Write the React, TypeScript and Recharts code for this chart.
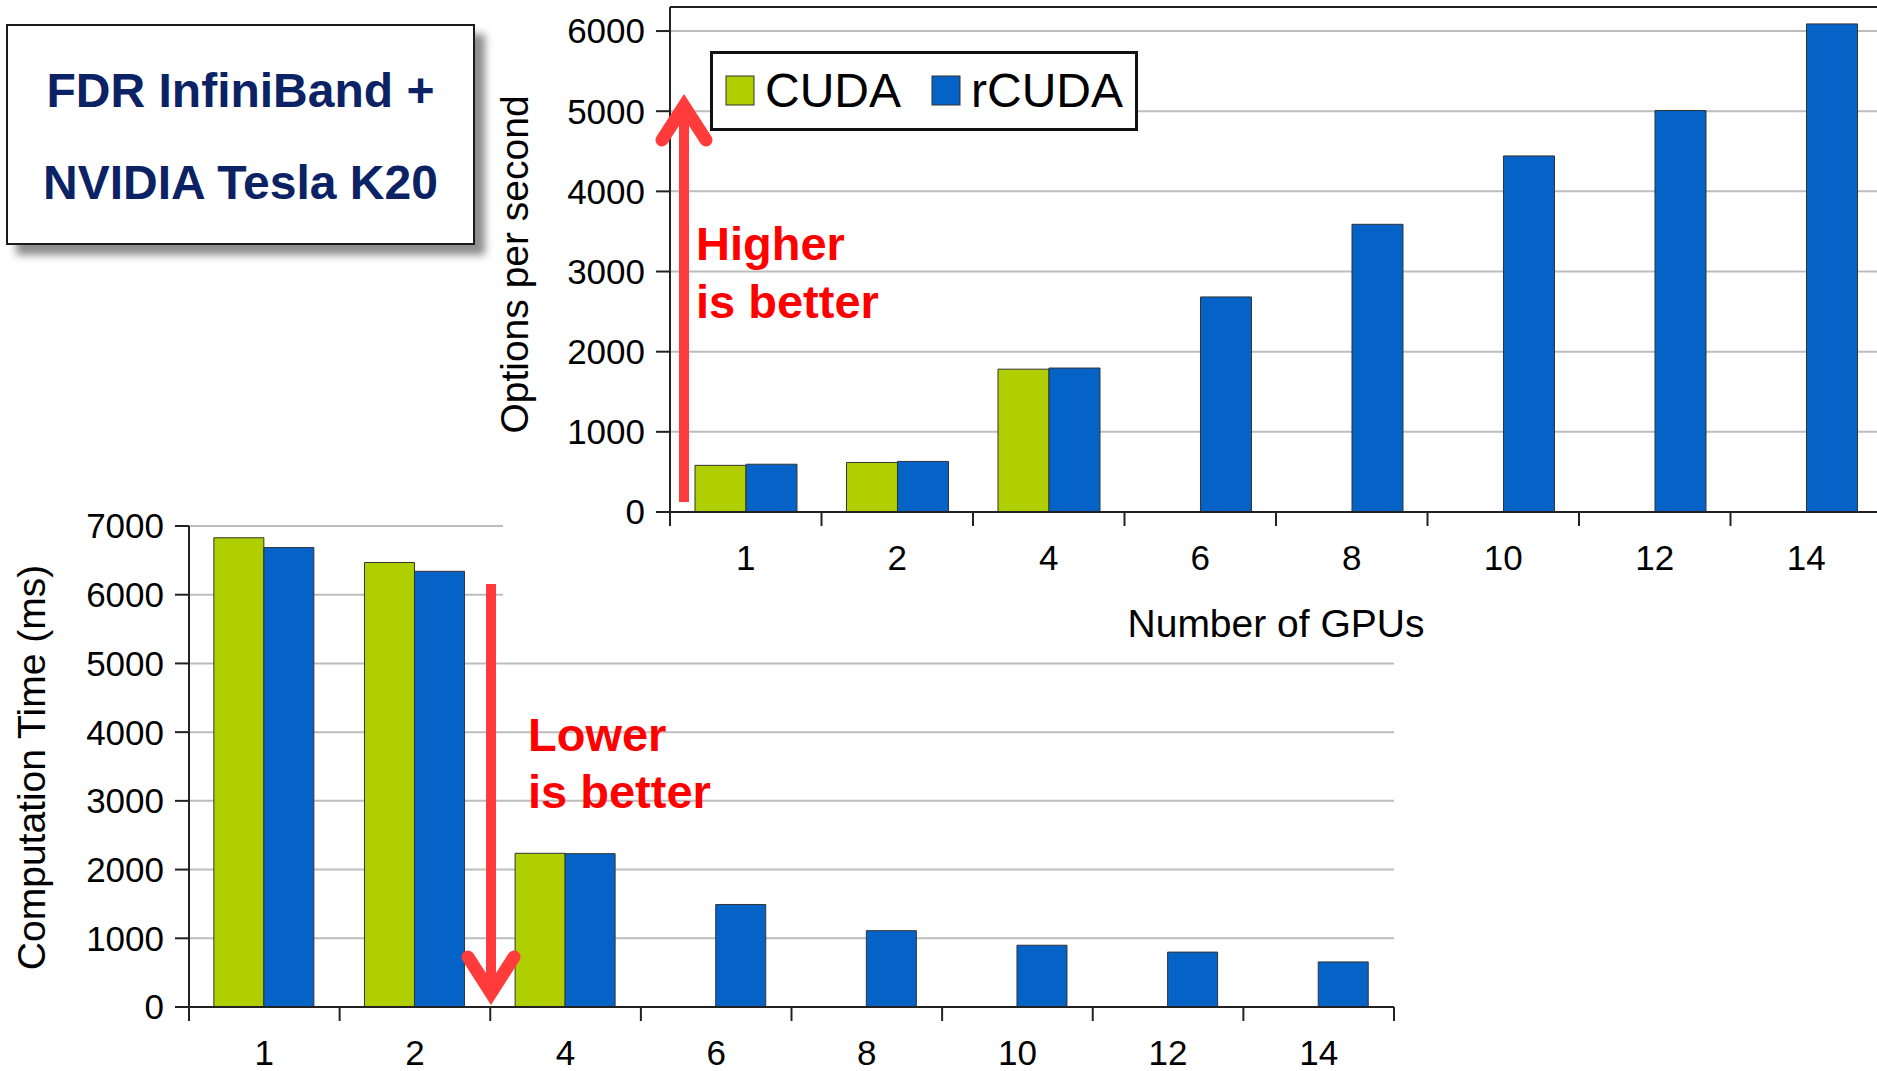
import React from "react";
import { BarChart, Bar, XAxis, YAxis, CartesianGrid, ReferenceLine } from "recharts";

const gpus = ["1", "2", "4", "6", "8", "10", "12", "14"];
const cudaOptions = [582, 618, 1782, null, null, null, null, null];
const rcudaOptions = [596, 631, 1796, 2683, 3589, 4442, 5009, 6089];
const cudaTime = [6829, 6469, 2237, null, null, null, null, null];
const rcudaTime = [6686, 6341, 2232, 1492, 1111, 899, 799, 656];
const optionsTicks = [0, 1000, 2000, 3000, 4000, 5000, 6000];
const timeTicks = [0, 1000, 2000, 3000, 4000, 5000, 6000, 7000];
const seriesNames = ["CUDA", "rCUDA"];
const seriesColors = ["#B0CF00", "#0563C8"];

const FONT = '"Liberation Sans", Arial, sans-serif';
const AXIS = "#222";
const GRID = "#BDBDBD";
const RED = "#FF3B3B";

const optionsData = gpus.map((g, i) => ({ gpus: g, cuda: cudaOptions[i], rcuda: rcudaOptions[i] }));
const timeData = gpus.map((g, i) => ({ gpus: g, cuda: cudaTime[i], rcuda: rcudaTime[i] }));

// category ticks sit on the band edges, labels in the middle
const EdgeTick = (props: any) => {
  const { x, y, payload, index, visibleTicksCount, width } = props;
  const band = payload && payload.offset ? payload.offset * 2 : width / visibleTicksCount;
  const left = x - band / 2;
  return (
    <g>
      <line x1={left} y1={y} x2={left} y2={y + 14} stroke={AXIS} strokeWidth={2} />
      {index === visibleTicksCount - 1 && (
        <line x1={x + band / 2} y1={y} x2={x + band / 2} y2={y + 14} stroke={AXIS} strokeWidth={2} />
      )}
      <text x={x} y={y + 58} textAnchor="middle" fontSize={35} fontFamily={FONT} fill="#000">
        {payload.value}
      </text>
    </g>
  );
};

const yTitle = (text: string, dx: number, dy: number) => (props: any) => {
  const vb = props.viewBox;
  if (!vb) return null;
  const cx = vb.x + dx;
  const cy = vb.y + vb.height / 2 + dy;
  return (
    <text x={cx} y={cy} transform={`rotate(-90 ${cx} ${cy})`} textAnchor="middle" fontSize={39} fontFamily={FONT} fill="#000">
      {text}
    </text>
  );
};

const xTitle = (text: string) => (props: any) => {
  const vb = props.viewBox;
  if (!vb) return null;
  return (
    <text x={vb.x + vb.width / 2} y={vb.y + 125} textAnchor="middle" fontSize={39} fontFamily={FONT} fill="#000">
      {text}
    </text>
  );
};

const tickStyle = { fontSize: 35, fill: "#000", fontFamily: FONT };

const App = () => {
  return (
    <div style={{ position: "absolute", left: 0, top: 0, width: 1877, height: 1071, overflow: "hidden", background: "#fff", fontFamily: FONT }}>
      {/* computation time chart, bottom left */}
      <div style={{ position: "absolute", left: 0, top: 470 }}>
        <BarChart width={1420} height={601} data={timeData} margin={{ top: 56, right: 26, bottom: 0, left: 0 }} barCategoryGap="16.5%" barGap={0}>
          <CartesianGrid vertical={false} stroke={GRID} strokeWidth={2} />
          <XAxis dataKey="gpus" height={64} interval={0} tickSize={0} tickMargin={0} tickLine={false} axisLine={{ stroke: AXIS, strokeWidth: 2 }} tick={<EdgeTick />} />
          <YAxis domain={[0, 7000]} ticks={timeTicks} interval={0} width={189} tickSize={14} tickMargin={11} tick={tickStyle} axisLine={{ stroke: AXIS, strokeWidth: 2 }} tickLine={{ stroke: AXIS, strokeWidth: 2 }} label={yTitle("Computation Time (ms)", 45, 1)} />
          <YAxis yAxisId="frame" orientation="right" domain={[0, 7000]} width={0} tick={false} tickLine={false} axisLine={{ stroke: AXIS, strokeWidth: 2 }} />
          <Bar dataKey="cuda" name={seriesNames[0]} fill={seriesColors[0]} stroke="#333" strokeWidth={1} isAnimationActive={false} />
          <Bar dataKey="rcuda" name={seriesNames[1]} fill={seriesColors[1]} stroke="#333" strokeWidth={1} isAnimationActive={false} />
        </BarChart>
      </div>

      {/* white panel of the upper chart, hides the top right of the lower one */}
      <div style={{ position: "absolute", left: 503, top: 0, width: 1400, height: 644, background: "#fff" }} />

      {/* options per second chart, top right */}
      <div style={{ position: "absolute", left: 486, top: 0 }}>
        <BarChart width={1417} height={644} data={optionsData} margin={{ top: 7, right: 21, bottom: 0, left: 0 }} barCategoryGap="16.5%" barGap={0}>
          <CartesianGrid vertical={false} stroke={GRID} strokeWidth={2} />
          <XAxis dataKey="gpus" height={132} interval={0} tickSize={0} tickMargin={0} tickLine={false} axisLine={{ stroke: AXIS, strokeWidth: 2 }} tick={<EdgeTick />} label={xTitle("Number of GPUs")} />
          <YAxis domain={[0, 6300]} ticks={optionsTicks} interval={0} width={184} tickSize={14} tickMargin={11} tick={tickStyle} axisLine={{ stroke: AXIS, strokeWidth: 2 }} tickLine={{ stroke: AXIS, strokeWidth: 2 }} label={yTitle("Options per second", 42, 5)} />
          <ReferenceLine y={6300} stroke={AXIS} strokeWidth={2} />
          <Bar dataKey="cuda" name={seriesNames[0]} fill={seriesColors[0]} stroke="#333" strokeWidth={1} isAnimationActive={false} />
          <Bar dataKey="rcuda" name={seriesNames[1]} fill={seriesColors[1]} stroke="#333" strokeWidth={1} isAnimationActive={false} />
        </BarChart>
      </div>

      {/* legend */}
      <svg style={{ position: "absolute", left: 710, top: 51 }} width={428} height={80}>
        <rect x={1.5} y={1.5} width={425} height={77} fill="#fff" stroke="#111" strokeWidth={3} />
        {seriesNames.map((name, i) => {
          const x0 = i === 0 ? 16 : 222;
          return (
            <g key={name}>
              <rect x={x0} y={25} width={28} height={29} fill={seriesColors[i]} stroke="#333" strokeWidth={1} />
              <text x={x0 + 39} y={56} fontSize={48} fontFamily={FONT} fill="#000">{name}</text>
            </g>
          );
        })}
      </svg>

      {/* title box */}
      <div style={{ position: "absolute", left: 6, top: 24, width: 469, height: 221, boxSizing: "border-box", border: "2px solid #1a1a1a", background: "#fff", boxShadow: "10px 10px 8px rgba(0,0,0,0.45)" }}>
        <svg style={{ position: "absolute", left: -2, top: -2 }} width={469} height={221}>
          <text x={234.5} y={83} textAnchor="middle" fontSize={48} fontWeight="bold" fontFamily={FONT} fill="#0B2265">FDR InfiniBand +</text>
          <text x={234.5} y={175} textAnchor="middle" fontSize={48} fontWeight="bold" fontFamily={FONT} fill="#0B2265">NVIDIA Tesla K20</text>
        </svg>
      </div>

      {/* annotations */}
      <svg style={{ position: "absolute", left: 0, top: 0, pointerEvents: "none" }} width={1877} height={1071}>
        <line x1={684} y1={502} x2={684} y2={112} stroke={RED} strokeWidth={10} />
        <path d="M662,140 L684,106 L706,140" fill="none" stroke={RED} strokeWidth={13} strokeLinecap="round" strokeLinejoin="miter" />
        <text x={696} y={260} fontSize={47} fontWeight="bold" fontFamily={FONT} fill="#FF0000">Higher</text>
        <text x={696} y={318} fontSize={47} fontWeight="bold" fontFamily={FONT} fill="#FF0000">is better</text>

        <line x1={491} y1={584} x2={491} y2={990} stroke={RED} strokeWidth={10} />
        <path d="M468,957 L491,993 L514,957" fill="none" stroke={RED} strokeWidth={13} strokeLinecap="round" strokeLinejoin="miter" />
        <text x={528} y={751} fontSize={47} fontWeight="bold" fontFamily={FONT} fill="#FF0000">Lower</text>
        <text x={528} y={808} fontSize={47} fontWeight="bold" fontFamily={FONT} fill="#FF0000">is better</text>
      </svg>
    </div>
  );
};

export default App;
